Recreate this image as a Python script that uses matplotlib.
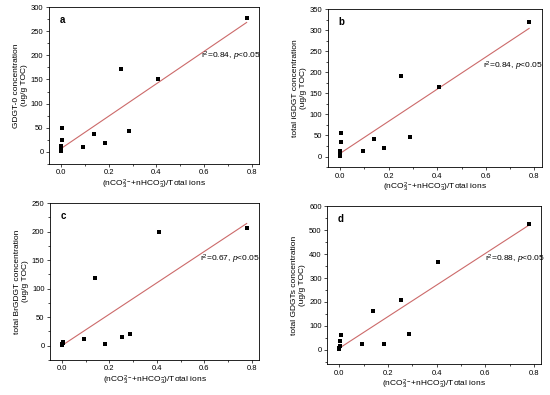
import numpy as np
import matplotlib
matplotlib.use("Agg")
import matplotlib.pyplot as plt
from matplotlib.ticker import MultipleLocator

plt.rcParams["font.family"] = ["Liberation Sans", "DejaVu Sans"]
plt.rcParams["mathtext.fontset"] = "custom"
plt.rcParams["mathtext.rm"] = "Liberation Sans"
plt.rcParams["mathtext.it"] = "Liberation Sans:italic"

# carbonate fraction of total ions (shared x for all panels)
ion_frac = [0.0, 0.0, 0.002, 0.003, 0.005, 0.094, 0.138, 0.183, 0.252, 0.287, 0.407, 0.778]

gdgt0 = [2, 3, 12, 25, 50, 11, 36, 19, 172, 44, 150, 278]
igdgt = [2, 4, 14, 34, 55, 12, 42, 21, 191, 47, 165, 320]
brgdgt = [1, 2, 3.5, 6, 5, 12, 119, 3, 15, 20, 200, 206]
total_gdgt = [4, 6, 15, 36, 61, 25, 162, 24, 207, 68, 367, 526]

panel_letters = ["a", "b", "c", "d"]
ylabels = ["GDGT-0 concentration\n(ug/g TOC)",
           "total iGDGT concentration\n(ug/g TOC)",
           "total BrGDGT concentration\n(ug/g TOC)",
           "total GDGTs concentration\n(ug/g TOC)"]
stats = ["0.84", "0.84", "0.67", "0.88"]
ylims = [(-25, 300), (-25, 350), (-25, 250), (-60, 600)]
ysteps = [50, 50, 50, 100]
stat_pos = [(0.585, 197), (0.589, 214), (0.58, 151), (0.597, 379)]

# axes rectangles [left, bottom, width, height] in figure fraction
rects = [[0.089, 0.585, 0.382, 0.397],
         [0.596, 0.577, 0.389, 0.400],
         [0.091, 0.089, 0.380, 0.397],
         [0.595, 0.078, 0.389, 0.400]]

xlabel = r"(nCO$_3^{2-}$+nHCO$_3^{-}$)/Total ions"
series = [gdgt0, igdgt, brgdgt, total_gdgt]

fig = plt.figure(figsize=(5.5, 3.95), dpi=100)
x = np.array(ion_frac)
for i, y in enumerate(series):
    ax = fig.add_axes(rects[i])
    y = np.array(y, dtype=float)
    k, b = np.polyfit(x, y, 1)
    xx = np.array([x.min(), x.max()])
    ax.plot(xx, k * xx + b, color="#cc6a6a", lw=0.8, zorder=1)
    ax.scatter(x, y, marker="s", s=8, color="black", zorder=2, linewidths=0)
    ax.set_xlim(-0.05, 0.83)
    ax.set_ylim(*ylims[i])
    ax.xaxis.set_major_locator(MultipleLocator(0.2))
    ax.xaxis.set_minor_locator(MultipleLocator(0.1))
    ax.yaxis.set_major_locator(MultipleLocator(ysteps[i]))
    ax.yaxis.set_minor_locator(MultipleLocator(ysteps[i] / 2))
    ax.xaxis.set_major_formatter(plt.FuncFormatter(lambda v, p: f"{v:.1f}"))
    ax.tick_params(which="both", direction="out", labelsize=5.5, width=0.5, pad=1.5)
    ax.tick_params(which="major", length=2.5)
    ax.tick_params(which="minor", length=1.5)
    for s in ax.spines.values():
        s.set_linewidth(0.6)
    ax.set_xlabel(xlabel, fontsize=6, labelpad=1)
    ax.set_ylabel(ylabels[i], fontsize=6, labelpad=2)
    ax.text(0.05, 0.92, panel_letters[i], transform=ax.transAxes,
            fontsize=7, fontweight="bold", va="center")
    sx, sy = stat_pos[i]
    ax.text(sx, sy, r"r$^2$=" + stats[i] + r", $p$<0.05", fontsize=6, va="center")

fig.savefig("out.png", dpi=100)
